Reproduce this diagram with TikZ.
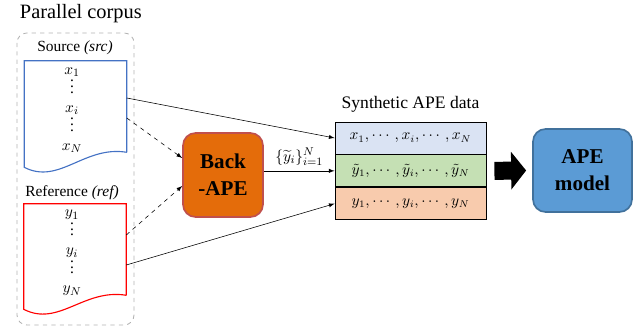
\documentclass[tikz,border=0pt]{standalone}
\usepackage{amsmath}
\usepackage{fontspec}
\setmainfont{Liberation Serif}
\usetikzlibrary{arrows.meta,positioning,calc}
\tikzset{>=latex}

\definecolor{srcblue}{HTML}{4472C4}
\definecolor{refred}{HTML}{FF0000}
\definecolor{backfill}{HTML}{E46C0A}
\definecolor{backline}{HTML}{C0504D}
\definecolor{apefill}{HTML}{5B9BD5}
\definecolor{apeline}{HTML}{41719C}
\definecolor{rowblue}{HTML}{DAE3F3}
\definecolor{rowgreen}{HTML}{C5E0B4}
\definecolor{rowpeach}{HTML}{F8CBAD}

\begin{document}
\begin{tikzpicture}[x=0.025cm, y=-0.025cm,
	docbox/.style={minimum width=2.55cm, minimum height=2.275cm, inner sep=0pt},
	items/.style={align=center, font=\fontsize{11}{13.5}\selectfont},
	lbl/.style={font=\fontsize{11}{13}\selectfont},
	rowbox/.style={draw=black, line width=0.6pt, minimum width=3.775cm, minimum height=0.8cm, inner sep=0pt, font=\fontsize{10.5}{13}\selectfont},
	engine/.style={rounded corners=9pt, line width=1.2pt, align=center, font=\bfseries\fontsize{15}{19}\selectfont},
	wave/.style={line width=0.8pt}]
	\useasboundingbox (0,0) rectangle (641,327);

	\node[anchor=west, font=\fontsize{14.5}{17}\selectfont] (title) at (15,14) {Parallel corpus};
	\draw[gray!60, dashed, line width=0.6pt, rounded corners=7pt] (17,33) rectangle (134,325);

	% source side
	\node[lbl] (srclbl) at (75,48) {Source \textit{(src)}};
	\node[docbox] (src) at (75.5,106.5) {};
	\draw[wave, srcblue] (src.south east) -- (src.north east) -- (src.north west) -- ($(src.south west)+(0,15)$)
		.. controls ($(src.south west)+(35,33)$) and ($(src.south west)+(60,-7)$) .. (src.south east);
	\node[items] (srcitems) at (72,110) {$x_1$\\ $\smash{\vdots}$\\ $x_i$\\ $\smash{\vdots}$\\ $x_N$};

	% reference side
	\node[lbl] (reflbl) at (72,193) {Reference \textit{(ref)}};
	\node[docbox] (ref) at (75,249.5) {};
	\draw[wave, refred] (ref.south east) -- (ref.north east) -- (ref.north west) -- ($(ref.south west)+(0,14)$)
		.. controls ($(ref.south west)+(35,32)$) and ($(ref.south west)+(60,-7)$) .. (ref.south east);
	\node[items] (refitems) at (72,253) {$y_1$\\ $\smash{\vdots}$\\ $y_i$\\ $\smash{\vdots}$\\ $y_N$};

	% models
	\node[engine, fill=backfill, draw=backline, minimum width=2cm, minimum height=2.1cm] (back) at (223,175) {Back\\-APE};
	\node[engine, fill=apefill, draw=apeline, minimum width=2.475cm, minimum height=2.075cm] (ape) at (582.5,170.5) {APE\\model};

	% synthetic data
	\node[rowbox, fill=rowblue] (row1) at (410.5,138) {$x_1,\cdots,x_i,\cdots,x_N$};
	\node[rowbox, fill=rowgreen, below=0pt of row1] (row2) {$\tilde{y}_1,\cdots,\tilde{y}_i,\cdots,\tilde{y}_N$};
	\node[rowbox, fill=rowpeach, below=0pt of row2] (row3) {$y_1,\cdots,y_i,\cdots,y_N$};
	\node[font=\fontsize{12.5}{15}\selectfont, above=0.12cm of row1] (synlbl) {Synthetic APE data};

	\draw[->] ($(src.east)+(0,-8.5)$) -- (row1.west);
	\draw[->, dashed] ($(src.east)+(0,11.5)$) -- ($(back.west)+(0,-17)$);
	\draw[->, dashed] ($(ref.east)+(0,-14.5)$) -- ($(back.west)+(0,11)$);
	\draw[->] ($(ref.east)+(0,15.5)$) -- (row3.west);
	\draw[->] (back.east |- row2.west) -- node[above, font=\fontsize{11}{13}\selectfont] {$\{\widetilde{y}_i\}_{i=1}^N$} (row2.west);
	\draw[line width=0.45cm, -{Triangle[length=0.375cm, width=0.925cm]}] ($(row2.east)+(8,0)$) -- ($(ape.west)+(-6,0)$);
\end{tikzpicture}
\end{document}
